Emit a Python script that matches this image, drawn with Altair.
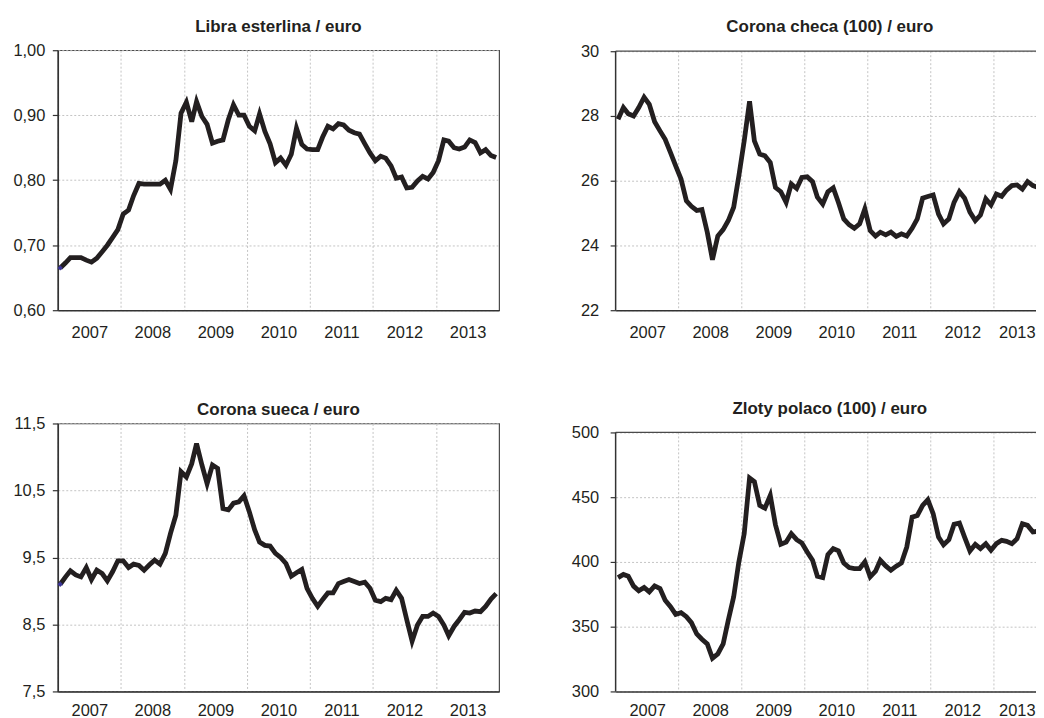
import altair as alt
import pandas as pd

# Monthly observations, Jan 2007 - Dec 2013
fechas = [f"{2007 + i // 12}-{i % 12 + 1:02d}-15" for i in range(84)]
anios = list(range(2007, 2014))

libra = [
    0.665, 0.673, 0.681, 0.681, 0.681, 0.677, 0.674, 0.680, 0.690, 0.700, 0.712, 0.724,
    0.748, 0.754, 0.776, 0.795, 0.794, 0.794, 0.794, 0.794, 0.800, 0.786, 0.830, 0.903,
    0.920, 0.890, 0.921, 0.898, 0.886, 0.857, 0.860, 0.862, 0.893, 0.916, 0.900, 0.900,
    0.883, 0.876, 0.902, 0.875, 0.856, 0.827, 0.834, 0.823, 0.840, 0.880, 0.855, 0.848,
    0.847, 0.847, 0.866, 0.883, 0.879, 0.887, 0.885, 0.877, 0.873, 0.871, 0.856, 0.842,
    0.830, 0.837, 0.834, 0.822, 0.803, 0.805, 0.788, 0.789, 0.799, 0.806, 0.802, 0.812,
    0.830, 0.862, 0.860, 0.850, 0.848, 0.851, 0.862, 0.858, 0.842, 0.847, 0.838, 0.835,
]
corona_checa = [
    27.90, 28.26, 28.07, 28.00, 28.26, 28.58, 28.36, 27.82, 27.54, 27.28, 26.87, 26.46,
    26.05, 25.38, 25.21, 25.08, 25.11, 24.41, 23.56, 24.29, 24.49, 24.77, 25.18, 26.15,
    27.23, 28.45, 27.23, 26.82, 26.77, 26.56, 25.79, 25.66, 25.33, 25.90, 25.76, 26.10,
    26.12, 25.97, 25.49, 25.28, 25.66, 25.78, 25.33, 24.82, 24.64, 24.53, 24.67, 25.13,
    24.46, 24.29, 24.41, 24.33, 24.41, 24.28, 24.36, 24.29, 24.53, 24.82, 25.46, 25.51,
    25.56, 24.97, 24.67, 24.82, 25.33, 25.66, 25.46, 25.03, 24.77, 24.94, 25.44, 25.25,
    25.59, 25.52, 25.71, 25.85, 25.87, 25.74, 25.97, 25.85, 25.79, 25.64, 26.98, 27.43,
]
corona_sueca = [
    9.10, 9.21, 9.30, 9.24, 9.21, 9.35, 9.17, 9.31, 9.26, 9.15, 9.29, 9.45,
    9.45, 9.35, 9.40, 9.38, 9.31, 9.39, 9.46, 9.40, 9.56, 9.86, 10.13, 10.78,
    10.70, 10.90, 11.20, 10.88, 10.60, 10.88, 10.83, 10.23, 10.21, 10.31, 10.33, 10.42,
    10.18, 9.91, 9.73, 9.68, 9.67, 9.56, 9.50, 9.41, 9.22, 9.27, 9.32, 9.04,
    8.89, 8.77, 8.87, 8.97, 8.97, 9.11, 9.14, 9.17, 9.14, 9.11, 9.13, 9.04,
    8.86, 8.84, 8.89, 8.87, 9.01, 8.89, 8.57, 8.25, 8.49, 8.62, 8.62, 8.67,
    8.62, 8.49, 8.33, 8.47, 8.57, 8.68, 8.67, 8.70, 8.69, 8.77, 8.88, 8.96,
]
zloty = [
    387.9, 390.3, 389.0, 381.3, 377.7, 380.3, 376.9, 381.5, 379.5, 370.5, 365.4, 359.5,
    360.8, 357.7, 353.1, 344.4, 340.3, 336.7, 325.6, 329.0, 336.7, 355.1, 373.1, 400.0,
    421.8, 464.9, 462.1, 443.6, 441.5, 451.3, 428.7, 413.6, 415.4, 421.8, 417.2, 414.6,
    407.7, 401.3, 389.0, 387.9, 405.6, 410.3, 408.5, 399.2, 395.6, 394.9, 394.9, 400.0,
    388.5, 392.8, 401.3, 396.9, 393.6, 396.7, 399.2, 411.5, 434.6, 435.9, 443.6, 448.0,
    437.2, 419.2, 413.3, 417.2, 429.0, 430.0, 419.2, 408.5, 413.6, 410.3, 414.1, 409.0,
    414.1, 416.7, 415.9, 414.1, 417.9, 429.5, 428.2, 423.1, 423.8, 418.7, 419.0, 418.0,
]

FONT = "Liberation Sans"
INK = "#231f20"
FRAME = "#4a4a4a"
GRID = "#c4c4c4"
W = 443            # full panel width (7 years)
WR = 430           # right-hand panels run off the page edge
PX_YEAR = W / 7


def fecha(a, m=1, d=1):
    return alt.DateTime(year=a, month=m, date=d, utc=True)


def panel(valores, titulo, dominio, marcas, decimales, alto, desfase, pad_lab, ext,
          marcador, derecho, pad_x, margen=0):
    ancho = WR if derecho else W
    fin = fecha(2013, 10, 18) if derecho else fecha(2014)
    lo, hi = dominio
    # the frame of the right-hand panels is drawn by hand, so the value scale may
    # start a few pixels below the top of the cell
    hi_ext = hi + (hi - lo) * margen / (alto - margen)
    df = pd.DataFrame({"fecha": fechas, "valor": valores})
    if derecho:
        # keep the last year label readable at the cut page edge
        desp = {"condition": {"test": "utcyear(datum.value) == 2013", "value": 23},
                "value": PX_YEAR / 2}
    else:
        desp = PX_YEAR / 2
    x = alt.X(
        "fecha:T", title=None,
        scale=alt.Scale(type="utc", domain=[fecha(2007), fin]),
        axis=alt.Axis(
            values=[fecha(a) for a in anios],
            labelExpr="utcFormat(datum.value, '%Y')",
            labelOffset=desp, labelFlush=False, labelOverlap=False, labelBound=False,
            ticks=False, labelPadding=pad_x, grid=not derecho,
        ),
    )
    if decimales:
        expr = f"replace(format(datum.value, '.{decimales}f'), '.', ',')"
    else:
        expr = "format(datum.value, 'd')"
    y = alt.Y(
        "valor:Q", title=None,
        scale=alt.Scale(domain=[lo, hi_ext], nice=False, zero=False),
        axis=alt.Axis(values=marcas, labelExpr=expr, tickSize=5.5, labelPadding=pad_lab,
                      minExtent=ext, maxExtent=ext, grid=True, domain=not derecho),
    )
    capas = []
    if derecho:
        rejilla = pd.DataFrame({"fecha": [f"{a}-01-01" for a in anios[1:]]})
        capas.append(
            alt.Chart(rejilla).mark_rule(color=GRID, strokeDash=[2, 2], strokeWidth=1)
            .encode(x=x, y=alt.value(margen), y2=alt.value(alto))
        )
    capas.append(alt.Chart(df).mark_line(color=INK, strokeWidth=4.8, clip=True).encode(x=x, y=y))
    if marcador:
        capas.append(
            alt.Chart(df.iloc[[0]]).mark_point(shape="diamond", filled=True, color="#3b3598",
                                               size=28, opacity=1).encode(x=x, y=y)
        )
    props = dict(
        width=ancho, height=alto,
        title=alt.TitleParams(text=titulo, fontSize=17, fontWeight="bold", font=FONT, color=INK,
                              anchor="middle", frame="group", offset=desfase),
    )
    if derecho:
        borde = pd.DataFrame({"borde": [0]})
        capas.append(
            alt.Chart(borde).mark_rule(color=FRAME, strokeWidth=1.2)
            .encode(x=alt.value(0), x2=alt.value(ancho), y=alt.value(margen))
        )
        capas.append(
            alt.Chart(borde).mark_rule(color="#333333", strokeWidth=1.5)
            .encode(x=alt.value(0), y=alt.value(margen), y2=alt.value(alto))
        )
        props["view"] = alt.ViewBackground(stroke=None)
    return alt.layer(*capas).properties(**props)


p1 = panel(libra, "Libra esterlina / euro", [0.6, 1.0], [0.6, 0.7, 0.8, 0.9, 1.0], 2,
           261, 6.6, 7.5, 49.3, True, False, 14)
p2 = panel(corona_checa, "Corona checa (100) / euro", [22, 30], [22, 24, 26, 28, 30], 0,
           261, 7.6, 11.5, 50, False, True, 14, margen=1)
p3 = panel(corona_sueca, "Corona sueca / euro", [7.5, 11.5], [7.5, 8.5, 9.5, 10.5, 11.5], 1,
           269, -3.0, 7.5, 49.3, True, False, 11)
p4 = panel(zloty, "Zloty polaco (100) / euro", [300, 500], [300, 350, 400, 450, 500], 0,
           269, 5.25, 11.5, 50, False, True, 11, margen=9)

fila1 = alt.hconcat(p1, p2, spacing=66)
fila2 = alt.hconcat(p3, p4, spacing=66)

chart = (
    alt.vconcat(fila1, fila2, spacing=57.7)
    # the right-hand panels are cut at the page edge, as in the printed figure
    .properties(padding={"top": 7, "left": 0, "right": -9, "bottom": 0})
    .configure_view(stroke=FRAME, strokeWidth=1.2)
    .configure_axis(
        domainColor="#333333", domainWidth=1.5, tickColor="#333333", tickWidth=1.2,
        gridColor=GRID, gridDash=[2, 2], gridWidth=1,
        labelFont=FONT, labelFontSize=16.5, labelColor=INK,
    )
)

chart.save("out.html", embed_options={"renderer": "svg", "actions": False})
